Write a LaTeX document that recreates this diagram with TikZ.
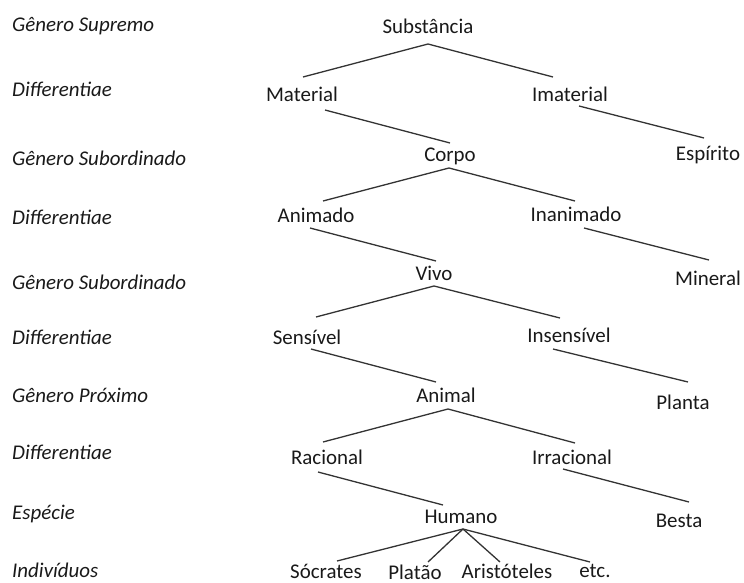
\documentclass[tikz,border=0pt]{standalone}
\usepackage{fontspec}
\setmainfont{Carlito}
\begin{document}
\begin{tikzpicture}[x=1bp,y=1bp,
  lvl/.style={anchor=west, inner sep=0pt, text height=14bp, text depth=0pt,
    font=\fontsize{21}{25}\selectfont\itshape, text=black!90},
  term/.style={inner sep=0pt, text height=14bp, text depth=0pt,
    font=\fontsize{21}{25}\selectfont, text=black!90},
  branch/.style={draw=black!80, line width=1.3bp}]
\useasboundingbox (0,0) rectangle (744,-583);

% level captions
\node[lvl] (l1)  at (12,-25)  {Gênero Supremo};
\node[lvl] (l2)  at (12,-90)  {Differentiae};
\node[lvl] (l3)  at (12,-159) {Gênero Subordinado};
\node[lvl] (l4)  at (12,-217) {Differentiae};
\node[lvl] (l5)  at (12,-282) {Gênero Subordinado};
\node[lvl] (l6)  at (12,-337) {Differentiae};
\node[lvl] (l7)  at (12,-395) {Gênero Próximo};
\node[lvl] (l8)  at (12,-452) {Differentiae};
\node[lvl] (l9)  at (12,-512) {Espécie};
\node[lvl] (l10) at (12,-570) {Indivíduos};

% terms of the tree
\node[term] (sub)  at (428,-27)  {Substância};
\node[term] (mat)  at (302,-95)  {Material};
\node[term] (imat) at (570,-95)  {Imaterial};
\node[term] (corp) at (450,-155) {Corpo};
\node[term] (esp)  at (708,-154) {Espírito};
\node[term] (anim) at (316,-216) {Animado};
\node[term] (inan) at (576,-215) {Inanimado};
\node[term] (vivo) at (434,-273) {Vivo};
\node[term] (minr) at (708,-278) {Mineral};
\node[term] (sens) at (307,-337) {Sensível};
\node[term] (insn) at (569,-335) {Insensível};
\node[term] (anml) at (446,-395) {Animal};
\node[term] (plnt) at (683,-402) {Planta};
\node[term] (rac)  at (327,-457) {Racional};
\node[term] (irr)  at (572,-457) {Irracional};
\node[term] (hum)  at (461,-516) {Humano};
\node[term] (bst)  at (679,-520) {Besta};
\node[term] (soc)  at (326,-571) {Sócrates};
\node[term] (plt)  at (415,-572) {Platão};
\node[term] (ari)  at (507,-571) {Aristóteles};
\node[term] (etc)  at (595,-570) {etc.};

% branches
\draw[branch] ([xshift=1bp,yshift=18bp]mat.center) -- ([yshift=-17bp]sub.center)
  -- ([xshift=-17bp,yshift=18bp]imat.center);
\draw[branch] ([xshift=23bp,yshift=-15bp]mat.center) -- ([yshift=12bp]corp.center);
\draw[branch] ([xshift=9bp,yshift=-11bp]imat.center) -- ([xshift=-4bp,yshift=16bp]esp.center);

\draw[branch] ([xshift=7bp,yshift=15bp]anim.center) -- ([xshift=-1bp,yshift=-13bp]corp.center)
  -- ([xshift=-1bp,yshift=14bp]inan.center);
\draw[branch] ([xshift=-6bp,yshift=-12bp]anim.center) -- ([xshift=2bp,yshift=12bp]vivo.center);
\draw[branch] ([xshift=8bp,yshift=-13bp]inan.center) -- ([xshift=1bp,yshift=18bp]minr.center);

\draw[branch] ([xshift=9bp,yshift=20bp]sens.center) -- ([yshift=-13bp]vivo.center)
  -- ([xshift=-9bp,yshift=17bp]insn.center);
\draw[branch] ([xshift=4bp,yshift=-12bp]sens.center) -- ([xshift=-10bp,yshift=13bp]anml.center);
\draw[branch] ([xshift=-16bp,yshift=-14bp]insn.center) -- ([xshift=5bp,yshift=20bp]plnt.center);

\draw[branch] ([xshift=-4bp,yshift=15bp]rac.center) -- ([xshift=2bp,yshift=-14bp]anml.center)
  -- ([xshift=3bp,yshift=14bp]irr.center);
\draw[branch] ([xshift=-9bp,yshift=-15bp]rac.center) -- ([xshift=-18bp,yshift=11bp]hum.center);
\draw[branch] ([xshift=-9bp,yshift=-12bp]irr.center) -- ([xshift=10bp,yshift=18bp]bst.center);

\coordinate (hapex) at ([xshift=2bp,yshift=-13bp]hum.center);
\draw[branch] (hapex) -- ([xshift=11bp,yshift=10bp]soc.center);
\draw[branch] (hapex) -- ([xshift=13bp,yshift=10bp]plt.center);
\draw[branch] (hapex) -- ([xshift=-7bp,yshift=9bp]ari.center);
\draw[branch] (hapex) -- ([xshift=-5bp,yshift=8bp]etc.center);
\end{tikzpicture}
\end{document}
